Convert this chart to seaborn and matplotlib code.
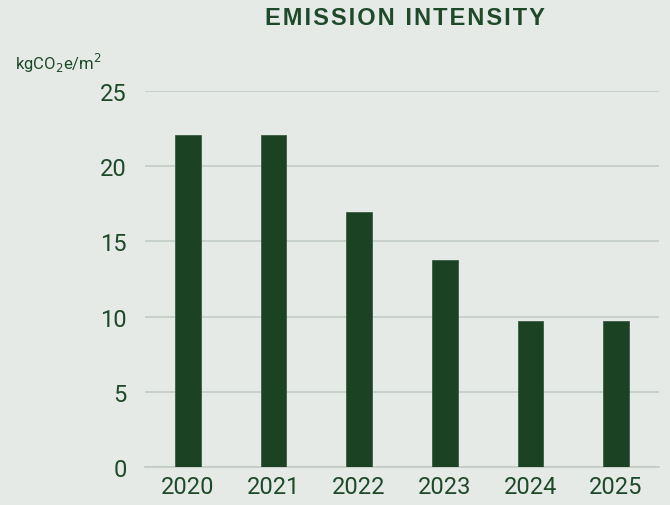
import matplotlib
matplotlib.use("Agg")
import matplotlib.pyplot as plt
import seaborn as sns
import pandas as pd

# chart data
years = ["2020", "2021", "2022", "2023", "2024", "2025"]
intensity = [22.1, 22.1, 16.95, 13.75, 9.7, 9.7]
y_ticks = [0, 5, 10, 15, 20, 25]

BG = "#e5eae6"
BAR = "#1c4224"
TEXT = "#1f4a2a"
GRID = "#c3cbc5"

sns.set_theme(style="white")
plt.rcParams["font.family"] = ["Roboto", "DejaVu Sans"]

df = pd.DataFrame({"year": years, "value": intensity})

fig = plt.figure(figsize=(6.7, 5.06), dpi=100, facecolor=BG)
ax = fig.add_axes([0.2164, 0.0751, 0.767, 0.743], facecolor=BG)

sns.barplot(data=df, x="year", y="value", color=BAR, width=0.3,
            saturation=1, edgecolor="#3c5c43", linewidth=0.6, ax=ax, zorder=3)

ax.set_ylim(0, 25)
ax.set_xlim(-0.5, len(years) - 0.5)
ax.set_yticks(y_ticks)
ax.yaxis.grid(True, color=GRID, linewidth=1.2, zorder=0)
ax.xaxis.grid(False)
for s in ["top", "right", "left"]:
    ax.spines[s].set_visible(False)
ax.spines["bottom"].set_color(GRID)
ax.spines["bottom"].set_linewidth(1.2)
ax.tick_params(axis="both", length=0, labelsize=17, labelcolor=TEXT)
ax.tick_params(axis="x", pad=6)
ax.tick_params(axis="y", pad=13)
ax.set_xlabel("")
ax.set_ylabel("")

title = "\u200a".join("EMISSION INTENSITY")
fig.text(0.6045, 0.963, title, ha="center", va="center", fontsize=17,
         fontweight="bold", color=TEXT, family=["Liberation Sans", "DejaVu Sans"])
fig.text(0.152, 0.874, "kgCO$_2$e/m$^2$", ha="right", va="center",
         fontsize=12, color=TEXT)

fig.savefig("out.png", dpi=100, facecolor=BG)
